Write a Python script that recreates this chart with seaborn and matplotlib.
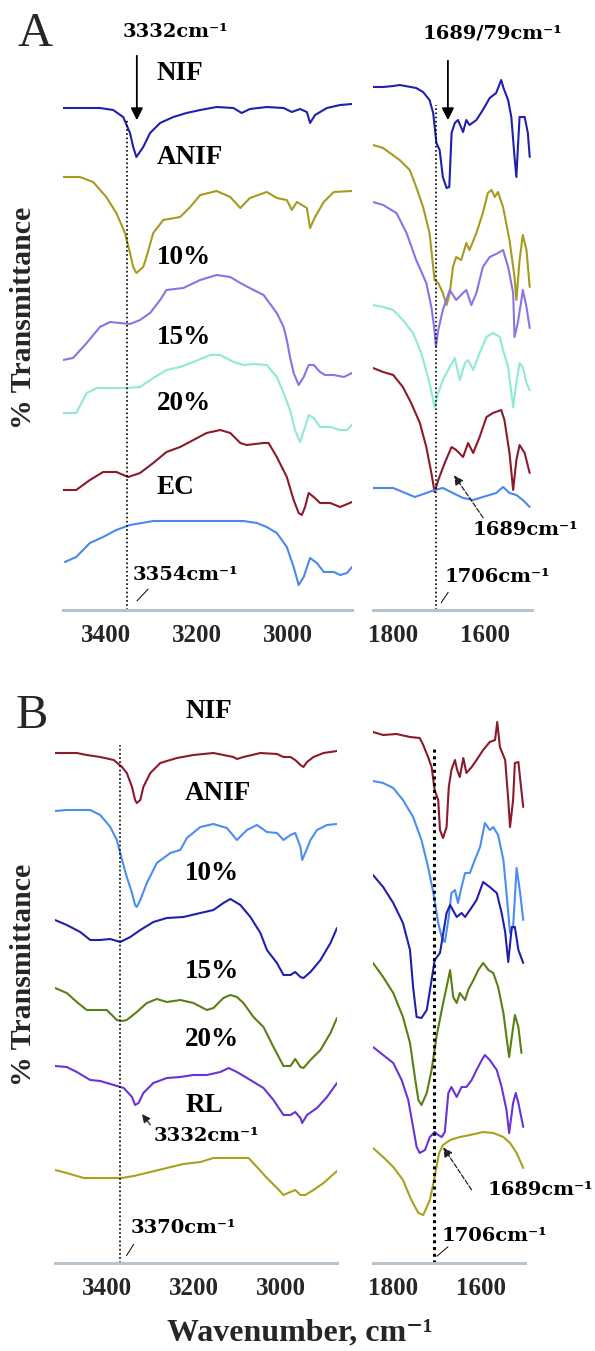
import matplotlib
matplotlib.use("Agg")
import matplotlib.pyplot as plt
import seaborn as sns
import pandas as pd
from matplotlib.ticker import MultipleLocator

# ---------------- data (wavenumber, relative transmittance, stacked) ----------------
# Panel A, 3500-2860 cm-1
A_L_NIF_WN = [3494, 3413, 3384, 3362, 3347, 3340, 3333, 3318, 3303, 3281, 3252, 3223, 3193, 3157, 3120, 3102, 3084, 3047, 3010, 2992, 2974, 2959, 2952, 2941, 2915, 2886, 2860]
A_L_NIF = [502, 502, 500, 493, 477, 463, 453, 463, 477, 487, 493, 497, 500, 503, 502, 497, 501, 503, 502, 498, 501, 498, 487, 495, 502, 505, 506]
A_L_ANIF_WN = [3494, 3457, 3428, 3399, 3377, 3358, 3347, 3340, 3333, 3318, 3311, 3296, 3274, 3237, 3215, 3193, 3157, 3127, 3105, 3084, 3047, 3025, 3003, 2992, 2981, 2959, 2952, 2941, 2922, 2900, 2860]
A_L_ANIF = [433, 433, 428, 413, 397, 377, 357, 343, 337, 343, 353, 377, 390, 393, 403, 415, 419, 413, 402, 412, 418, 412, 410, 400, 408, 402, 382, 393, 408, 418, 419]
A_L_10_WN = [3494, 3472, 3442, 3413, 3391, 3369, 3347, 3325, 3303, 3281, 3267, 3230, 3193, 3157, 3127, 3105, 3076, 3054, 3025, 3010, 3003, 2996, 2988, 2977, 2966, 2955, 2944, 2930, 2919, 2900, 2878, 2860]
A_L_10 = [250, 252, 267, 283, 288, 287, 286, 290, 297, 310, 320, 322, 330, 335, 333, 327, 320, 315, 297, 283, 270, 253, 237, 225, 233, 245, 245, 238, 235, 235, 233, 237]
A_L_15_WN = [3494, 3465, 3442, 3420, 3355, 3325, 3296, 3267, 3237, 3208, 3171, 3149, 3120, 3098, 3076, 3047, 3025, 3010, 2996, 2985, 2974, 2963, 2955, 2944, 2930, 2908, 2886, 2871, 2860]
A_L_15 = [197, 197, 217, 222, 222, 223, 232, 240, 243, 248, 255, 255, 248, 245, 246, 245, 233, 217, 200, 180, 168, 183, 195, 192, 183, 183, 180, 180, 185]
A_L_20_WN = [3494, 3465, 3435, 3406, 3377, 3351, 3325, 3296, 3267, 3237, 3208, 3179, 3149, 3127, 3105, 3091, 3054, 3043, 3025, 3003, 2988, 2977, 2970, 2963, 2955, 2944, 2930, 2908, 2886, 2860]
A_L_20 = [120, 120, 130, 138, 138, 133, 137, 147, 158, 163, 170, 177, 180, 177, 167, 165, 167, 167, 153, 133, 110, 97, 95, 103, 117, 113, 107, 107, 103, 108]
A_L_EC_WN = [3490, 3465, 3435, 3406, 3377, 3347, 3296, 3193, 3098, 3069, 3047, 3025, 3003, 2988, 2977, 2966, 2952, 2937, 2922, 2900, 2886, 2871, 2860]
A_L_EC = [48, 53, 67, 73, 80, 85, 89, 89, 89, 87, 83, 77, 63, 43, 25, 33, 52, 47, 38, 38, 35, 37, 43]

# Panel A, 1845-1500 cm-1
A_R_NIF_WN = [1843, 1821, 1799, 1785, 1749, 1734, 1720, 1712, 1705, 1698, 1691, 1683, 1677, 1672, 1665, 1658, 1647, 1640, 1633, 1618, 1604, 1589, 1575, 1564, 1559, 1549, 1542, 1535, 1531, 1528, 1524, 1513, 1506, 1502]
A_R_NIF = [523, 523, 524, 525, 522, 518, 510, 497, 467, 460, 433, 422, 423, 477, 487, 490, 478, 490, 485, 490, 500, 512, 517, 530, 522, 510, 493, 453, 433, 460, 493, 493, 477, 453]
A_R_ANIF_WN = [1843, 1821, 1785, 1763, 1749, 1734, 1720, 1709, 1701, 1691, 1683, 1676, 1669, 1662, 1651, 1640, 1633, 1618, 1604, 1593, 1585, 1578, 1571, 1560, 1546, 1535, 1531, 1524, 1517, 1509, 1502]
A_R_ANIF = [465, 462, 450, 440, 423, 403, 377, 330, 327, 317, 305, 317, 343, 353, 350, 367, 360, 377, 397, 417, 420, 413, 418, 403, 370, 333, 310, 350, 375, 360, 323]
A_R_10_WN = [1843, 1821, 1792, 1770, 1749, 1727, 1716, 1710, 1706, 1701, 1691, 1676, 1662, 1647, 1640, 1629, 1618, 1604, 1589, 1571, 1560, 1549, 1538, 1535, 1528, 1520, 1517, 1509, 1502]
A_R_10 = [408, 405, 397, 377, 350, 327, 303, 283, 263, 280, 300, 320, 310, 317, 320, 305, 317, 343, 353, 357, 360, 343, 317, 273, 287, 310, 320, 303, 282]
A_R_15_WN = [1843, 1821, 1799, 1778, 1756, 1738, 1720, 1709, 1701, 1691, 1676, 1665, 1654, 1643, 1636, 1625, 1611, 1596, 1582, 1567, 1560, 1549, 1538, 1531, 1524, 1517, 1509, 1502]
A_R_15 = [305, 303, 300, 290, 277, 257, 227, 203, 217, 230, 243, 252, 230, 247, 250, 240, 257, 273, 277, 273, 260, 243, 203, 227, 247, 243, 227, 220]
A_R_20_WN = [1843, 1821, 1799, 1778, 1760, 1741, 1727, 1716, 1709, 1701, 1687, 1672, 1662, 1647, 1636, 1625, 1611, 1596, 1582, 1564, 1557, 1546, 1538, 1531, 1524, 1513, 1502]
A_R_20 = [242, 238, 235, 223, 207, 187, 163, 137, 118, 130, 147, 163, 160, 153, 167, 157, 173, 193, 197, 200, 190, 157, 120, 150, 165, 157, 137]
A_R_EC_WN = [1843, 1799, 1778, 1752, 1727, 1709, 1691, 1669, 1647, 1625, 1604, 1575, 1560, 1546, 1531, 1517, 1502]
A_R_EC = [122, 122, 118, 113, 117, 120, 122, 117, 112, 110, 113, 117, 123, 117, 115, 110, 103]

# Panel B, 3520-2870 cm-1
B_L_NIF_WN = [3520, 3470, 3447, 3416, 3385, 3366, 3355, 3343, 3336, 3332, 3324, 3317, 3301, 3278, 3240, 3202, 3156, 3110, 3102, 3087, 3048, 3010, 2995, 2979, 2968, 2956, 2949, 2941, 2926, 2903, 2872]
B_L_NIF = [510, 510, 508, 506, 503, 496, 490, 476, 463, 460, 463, 476, 490, 500, 505, 508, 510, 506, 504, 506, 510, 509, 506, 506, 503, 498, 496, 501, 506, 510, 512]
B_L_ANIF_WN = [3520, 3493, 3439, 3416, 3393, 3378, 3366, 3355, 3343, 3336, 3332, 3324, 3309, 3286, 3255, 3232, 3217, 3186, 3156, 3125, 3102, 3079, 3056, 3033, 3010, 2995, 2979, 2968, 2956, 2952, 2945, 2933, 2918, 2895, 2872]
B_L_ANIF = [452, 453, 453, 448, 436, 423, 403, 386, 370, 358, 356, 363, 380, 400, 410, 413, 425, 436, 439, 435, 423, 433, 438, 431, 430, 423, 428, 430, 416, 403, 410, 423, 433, 438, 439]
B_L_10_WN = [3520, 3493, 3462, 3439, 3416, 3393, 3370, 3347, 3324, 3294, 3263, 3225, 3186, 3156, 3133, 3117, 3094, 3071, 3048, 3033, 3010, 2995, 2979, 2968, 2956, 2949, 2933, 2910, 2887, 2872]
B_L_10 = [343, 338, 331, 323, 323, 324, 321, 326, 333, 341, 345, 346, 350, 353, 360, 364, 358, 346, 330, 313, 300, 288, 288, 291, 286, 285, 291, 303, 320, 335]
B_L_15_WN = [3520, 3493, 3470, 3447, 3401, 3378, 3366, 3355, 3332, 3309, 3286, 3263, 3232, 3202, 3171, 3156, 3133, 3117, 3102, 3087, 3064, 3041, 3018, 2995, 2979, 2968, 2956, 2949, 2933, 2910, 2887, 2872]
B_L_15 = [275, 270, 261, 253, 253, 243, 242, 243, 251, 260, 264, 261, 263, 260, 253, 255, 265, 268, 266, 260, 246, 236, 216, 197, 197, 204, 196, 195, 203, 213, 230, 245]
B_L_20_WN = [3520, 3493, 3470, 3439, 3416, 3385, 3362, 3343, 3336, 3328, 3317, 3294, 3263, 3232, 3202, 3171, 3140, 3121, 3102, 3071, 3041, 3018, 2995, 2979, 2968, 2956, 2952, 2941, 2918, 2895, 2872]
B_L_20 = [197, 196, 191, 183, 182, 178, 175, 166, 158, 160, 170, 180, 185, 186, 188, 188, 191, 195, 191, 183, 175, 163, 148, 148, 151, 145, 140, 148, 155, 166, 180]
B_L_RL_WN = [3520, 3493, 3454, 3416, 3366, 3339, 3301, 3263, 3225, 3186, 3156, 3110, 3075, 3056, 3033, 3010, 2995, 2979, 2968, 2956, 2945, 2926, 2903, 2872]
B_L_RL = [93, 90, 85, 85, 85, 87, 91, 95, 99, 101, 105, 105, 105, 96, 85, 75, 68, 71, 73, 68, 68, 73, 80, 92]

# Panel B, 1845-1500 cm-1
B_R_NIF_WN = [1845, 1822, 1792, 1761, 1739, 1731, 1720, 1712, 1705, 1697, 1693, 1686, 1678, 1673, 1667, 1659, 1654, 1648, 1640, 1633, 1621, 1610, 1595, 1580, 1568, 1563, 1557, 1545, 1538, 1534, 1527, 1523, 1515, 1510, 1504]
B_R_NIF = [531, 528, 529, 526, 525, 518, 506, 496, 473, 463, 433, 425, 436, 476, 493, 503, 493, 486, 505, 490, 496, 503, 513, 521, 523, 541, 516, 503, 463, 436, 463, 500, 501, 480, 456]
B_R_ANIF_WN = [1845, 1822, 1799, 1777, 1754, 1735, 1720, 1708, 1697, 1689, 1682, 1674, 1667, 1659, 1652, 1644, 1636, 1625, 1614, 1602, 1591, 1580, 1572, 1561, 1549, 1542, 1534, 1527, 1519, 1511, 1504]
B_R_ANIF = [482, 480, 475, 463, 446, 423, 396, 370, 340, 326, 321, 343, 370, 373, 360, 376, 390, 390, 403, 416, 440, 433, 436, 428, 403, 370, 330, 336, 395, 370, 343]
B_R_10_WN = [1845, 1822, 1799, 1777, 1761, 1754, 1746, 1735, 1723, 1712, 1705, 1693, 1678, 1670, 1655, 1644, 1636, 1625, 1610, 1595, 1580, 1564, 1553, 1545, 1538, 1530, 1523, 1515, 1504]
B_R_10 = [388, 376, 360, 340, 313, 276, 246, 245, 253, 283, 303, 310, 350, 358, 346, 350, 346, 353, 363, 381, 376, 370, 350, 331, 301, 336, 336, 313, 300]
B_R_15_WN = [1845, 1822, 1799, 1777, 1761, 1750, 1742, 1735, 1723, 1712, 1701, 1689, 1678, 1670, 1663, 1655, 1648, 1636, 1629, 1617, 1606, 1595, 1583, 1572, 1561, 1549, 1542, 1536, 1530, 1523, 1515, 1508]
B_R_15 = [300, 286, 270, 246, 220, 186, 163, 158, 170, 193, 226, 253, 276, 293, 266, 260, 270, 263, 273, 283, 293, 300, 293, 290, 276, 250, 226, 206, 226, 248, 236, 210]
B_R_20_WN = [1845, 1822, 1799, 1780, 1765, 1754, 1746, 1739, 1727, 1716, 1705, 1697, 1689, 1682, 1674, 1667, 1655, 1644, 1633, 1621, 1610, 1598, 1591, 1580, 1564, 1553, 1542, 1536, 1527, 1521, 1515, 1504]
B_R_20 = [216, 208, 200, 183, 163, 136, 116, 110, 113, 126, 131, 128, 126, 131, 170, 176, 166, 176, 176, 183, 193, 203, 208, 203, 193, 176, 153, 130, 160, 170, 160, 136]
B_R_RL_WN = [1845, 1822, 1799, 1777, 1758, 1742, 1731, 1716, 1705, 1695, 1686, 1670, 1648, 1625, 1595, 1572, 1549, 1534, 1519, 1504]
B_R_RL = [115, 106, 96, 83, 63, 50, 48, 63, 86, 110, 118, 123, 126, 128, 131, 130, 126, 120, 110, 95]

A_LABELS = ["NIF", "ANIF", "10%", "15%", "20%", "EC"]
B_LABELS = ["NIF", "ANIF", "10%", "15%", "20%", "RL"]
A_COLORS = ["#1f1fb0", "#a89a1e", "#8a72e8", "#8fe8d8", "#8b1a2a", "#4a88ee"]
B_COLORS = ["#8b1a2a", "#4a8ef2", "#1f1fb0", "#5a7f12", "#6a32d8", "#a8a01e"]

A_LEFT = [(A_L_NIF_WN, A_L_NIF), (A_L_ANIF_WN, A_L_ANIF), (A_L_10_WN, A_L_10),
          (A_L_15_WN, A_L_15), (A_L_20_WN, A_L_20), (A_L_EC_WN, A_L_EC)]
A_RIGHT = [(A_R_NIF_WN, A_R_NIF), (A_R_ANIF_WN, A_R_ANIF), (A_R_10_WN, A_R_10),
           (A_R_15_WN, A_R_15), (A_R_20_WN, A_R_20), (A_R_EC_WN, A_R_EC)]
B_LEFT = [(B_L_NIF_WN, B_L_NIF), (B_L_ANIF_WN, B_L_ANIF), (B_L_10_WN, B_L_10),
          (B_L_15_WN, B_L_15), (B_L_20_WN, B_L_20), (B_L_RL_WN, B_L_RL)]
B_RIGHT = [(B_R_NIF_WN, B_R_NIF), (B_R_ANIF_WN, B_R_ANIF), (B_R_10_WN, B_R_10),
           (B_R_15_WN, B_R_15), (B_R_20_WN, B_R_20), (B_R_RL_WN, B_R_RL)]

# ---------------- style ----------------
sns.set_theme(style="white")
plt.rcParams["font.family"] = ["Liberation Serif", "DejaVu Serif"]
plt.rcParams["font.weight"] = "bold"

W, H = 595, 1351
fig = plt.figure(figsize=(W / 100, H / 100), dpi=100)


def make_ax(x0, x1, ybot, ytop):
    return fig.add_axes([x0 / W, 1 - ybot / H, (x1 - x0) / W, (ybot - ytop) / H])


def draw(ax, curves, colors):
    for (wn, vals), col in zip(curves, colors):
        df = pd.DataFrame({"wn": wn, "T": vals})
        sns.lineplot(data=df, x="wn", y="T", ax=ax, color=col, lw=1.5,
                     estimator=None, sort=False)
    ax.set_xlabel("")
    ax.set_ylabel("")


def style(ax, xlim, ylim, majors):
    ax.set_xlim(*xlim)
    ax.set_ylim(*ylim)
    ax.set_xticks(majors)
    ax.xaxis.set_minor_locator(MultipleLocator(50))
    ax.set_yticks([])
    for s in ["top", "left", "right"]:
        ax.spines[s].set_visible(False)
    ax.spines["bottom"].set_color("#b7c4cd")
    ax.spines["bottom"].set_linewidth(2.2)
    ax.tick_params(axis="x", which="major", direction="inout", length=2.6, width=2.6,
                   color="#222222", pad=9, labelsize=18)
    ax.tick_params(axis="x", which="minor", direction="inout", length=1.8, width=1.8,
                   color="#333333")
    for t in ax.get_xticklabels():
        t.set_fontweight("bold")
    ax.patch.set_alpha(0)


ANN = dict(fontsize=14, fontweight="bold", family=["DejaVu Serif"], color="black")
LAB = dict(fontsize=19.5, fontweight="bold", color="black", ha="left", va="center")

# ---------------- Panel A ----------------
axAL = make_ax(63, 352, 610, 0)
axAR = make_ax(373, 532, 610, 0)
draw(axAL, A_LEFT, A_COLORS)
draw(axAR, A_RIGHT, A_COLORS)
style(axAL, (3494, 2860), (0, 610), [3400, 3200, 3000])
style(axAR, (1843, 1497), (0, 610), [1800, 1600])

for lab, yy in zip(A_LABELS, [537, 453, 353, 273, 207, 123]):
    axAL.text(3288, yy, lab, **LAB)

axAL.vlines(3354, 0, 490, colors="black", linestyles=(0, (1, 1.5)), lw=1.2)
axAR.vlines(1706, 0, 505, colors="black", linestyles=(0, (1, 1.5)), lw=1.2)

axAL.text(3248, 578, "3332cm\u207b\u00b9", ha="center", va="center", **ANN)
axAL.annotate("", xy=(3332, 487), xytext=(3332, 557),
              arrowprops=dict(arrowstyle="-|>", color="black", lw=1.3, mutation_scale=18))
axAL.text(3341, 35, "3354cm\u207b\u00b9", ha="left", va="center", **ANN)
axAL.annotate("", xy=(3336, 7), xytext=(3303, 23),
              arrowprops=dict(arrowstyle="-", color="black", lw=0.7))

axAR.text(1583, 577, "1689/79cm\u207b\u00b9", ha="center", va="center", **ANN)
axAR.annotate("", xy=(1680, 487), xytext=(1680, 552),
              arrowprops=dict(arrowstyle="-|>", color="black", lw=1.3, mutation_scale=18))
axAR.text(1626, 80, "1689cm\u207b\u00b9", ha="left", va="center", **ANN)
axAR.annotate("", xy=(1670, 137), xytext=(1600, 90),
              arrowprops=dict(arrowstyle="-|>", color="#222222", lw=0.9,
                              linestyle="--", mutation_scale=14))
axAR.text(1687, 33, "1706cm\u207b\u00b9", ha="left", va="center", **ANN)
axAR.annotate("", xy=(1698, 5), xytext=(1676, 20),
              arrowprops=dict(arrowstyle="-", color="black", lw=0.7))

# ---------------- Panel B ----------------
axBL = make_ax(55, 337, 1263, 660)
axBR = make_ax(373, 525, 1263, 660)
draw(axBL, B_LEFT, B_COLORS)
draw(axBR, B_RIGHT, B_COLORS)
style(axBL, (3520, 2872), (0, 603), [3400, 3200, 3000])
style(axBR, (1845, 1500), (0, 603), [1800, 1600])

for lab, yy in zip(B_LABELS, [551, 469, 390, 291, 224, 158]):
    axBL.text(3221, yy, lab, **LAB)

axBL.vlines(3370, 0, 518, colors="black", linestyles=(0, (1, 1.5)), lw=1.2)
axBR.vlines(1706, 0, 516, colors="black", linestyles=(0, (1, 1.2)), lw=2.2)

axBL.text(3294, 127, "3332cm\u207b\u00b9", ha="left", va="center", **ANN)
axBL.annotate("", xy=(3324, 151), xytext=(3297, 136),
              arrowprops=dict(arrowstyle="-|>", color="#222222", lw=0.9, mutation_scale=12))
axBL.text(3347, 35, "3370cm\u207b\u00b9", ha="left", va="center", **ANN)
axBL.annotate("", xy=(3359, 5), xytext=(3336, 21),
              arrowprops=dict(arrowstyle="-", color="black", lw=0.7))

axBR.text(1586, 73, "1689cm\u207b\u00b9", ha="left", va="center", **ANN)
axBR.annotate("", xy=(1689, 118), xytext=(1618, 71),
              arrowprops=dict(arrowstyle="-|>", color="#222222", lw=0.9,
                              linestyle="--", mutation_scale=14))
axBR.text(1689, 27, "1706cm\u207b\u00b9", ha="left", va="center", **ANN)
axBR.annotate("", xy=(1705, 5), xytext=(1670, 18),
              arrowprops=dict(arrowstyle="-", color="black", lw=0.7))

# ---------------- figure texts ----------------
fig.text(35 / W, 1 - 34 / H, "A", fontsize=35, fontweight="normal", ha="center", va="center")
fig.text(32 / W, 1 - 716 / H, "B", fontsize=35, fontweight="normal", ha="center", va="center")
fig.text(24 / W, 1 - 318 / H, "% Transmittance", rotation=90, fontsize=21.5,
         fontweight="bold", ha="center", va="center")
fig.text(24 / W, 1 - 975 / H, "% Transmittance", rotation=90, fontsize=21.5,
         fontweight="bold", ha="center", va="center")
fig.text(300 / W, 1 - 1333 / H, "Wavenumber, cm\u207b\u00b9", fontsize=23,
         fontweight="bold", ha="center", va="center")

fig.savefig("out.png", dpi=100)
